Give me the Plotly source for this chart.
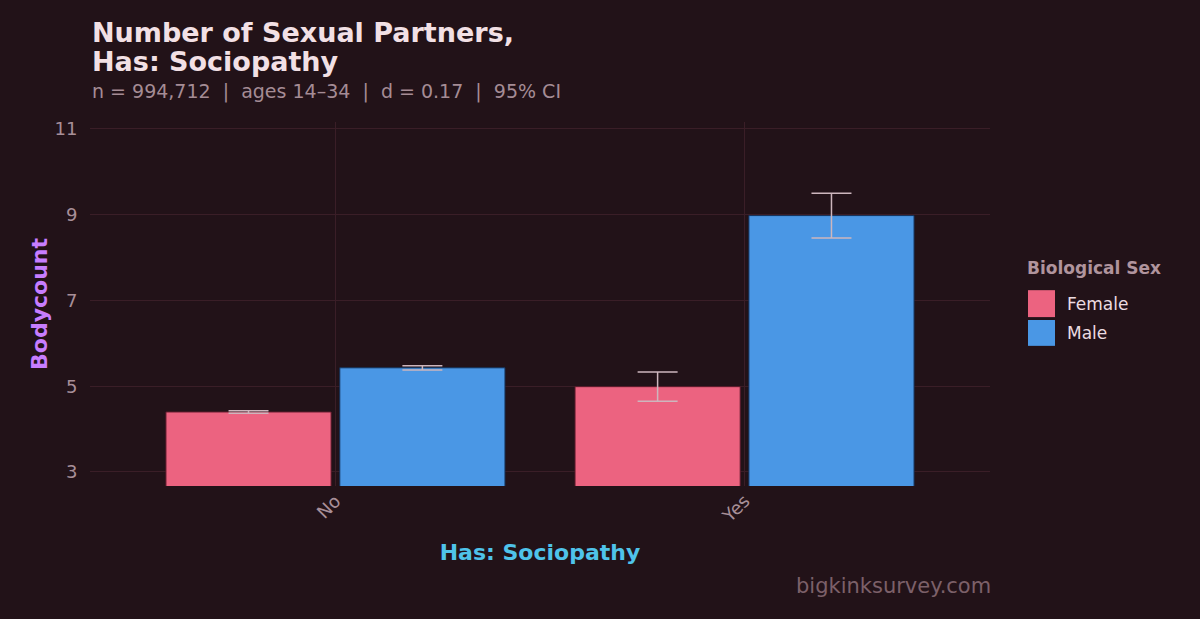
import plotly.graph_objects as go

# mean partner counts by sociopathy answer, split by sex
categories = ["No", "Yes"]
female_means = [4.40, 4.99]
female_ci = [0.03, 0.34]
male_means = [5.43, 8.98]
male_ci = [0.05, 0.52]

y_ticks = [3, 5, 7, 9, 11]

bg = "#221218"
grid = "#3a1e27"
tick_col = "#a88f98"
err_col = "#cdb6bd"
female_col = "#ec6380"
male_col = "#4a97e5"

fig = go.Figure(
    data=[
        go.Bar(
            name="Female",
            x=categories,
            y=female_means,
            error_y=dict(type="data", array=female_ci, color=err_col, thickness=1.5, width=20),
            marker=dict(color=female_col, line=dict(color="#5a1a2a", width=1)),
        ),
        go.Bar(
            name="Male",
            x=categories,
            y=male_means,
            error_y=dict(type="data", array=male_ci, color=err_col, thickness=1.5, width=20),
            marker=dict(color=male_col, line=dict(color="#15325a", width=1)),
        ),
    ],
    layout=go.Layout(
        width=1200,
        height=619,
        paper_bgcolor=bg,
        plot_bgcolor=bg,
        font=dict(family="DejaVu Sans", size=16, color=tick_col),
        margin=dict(l=90, r=210, t=122, b=133),
        barmode="group",
        bargap=0.15,
        bargroupgap=0.05,
        showlegend=False,
        xaxis=dict(
            title=dict(text="<b>Has: Sociopathy</b>", font=dict(size=22, color="#4fc3ea"), standoff=19),
            range=[-0.6, 1.6],
            tickangle=-45,
            tickfont=dict(size=18, color=tick_col),
            showgrid=True, gridcolor=grid, gridwidth=1,
            zeroline=False, showline=False, ticks="",
        ),
        yaxis=dict(
            title=dict(text="<b>Bodycount</b>", font=dict(size=22, color="#c77dff"), standoff=0),
            automargin=True,
            range=[2.673, 11.163],
            tickvals=y_ticks,
            ticks="outside", ticklen=8, tickcolor="rgba(0,0,0,0)",
            tickfont=dict(size=18, color=tick_col),
            showgrid=True, gridcolor=grid, gridwidth=1,
            zeroline=False, showline=False,
        ),
    ),
)

# title block, stacked above the plot area
fig.add_annotation(text="<b>Number of Sexual Partners,</b>", xref="paper", yref="paper",
                   x=0, y=1, xanchor="left", yanchor="middle", yshift=90, showarrow=False,
                   font=dict(size=27, color="#f2e0e5"))
fig.add_annotation(text="<b>Has: Sociopathy</b>", xref="paper", yref="paper",
                   x=0, y=1, xanchor="left", yanchor="middle", yshift=61, showarrow=False,
                   font=dict(size=27, color="#f2e0e5"))
fig.add_annotation(text="n = 994,712  |  ages 14–34  |  d = 0.17  |  95% CI", xref="paper", yref="paper",
                   x=0, y=1, xanchor="left", yanchor="middle", yshift=31, showarrow=False,
                   font=dict(size=19, color="#a58c95"))
fig.add_annotation(text="bigkinksurvey.com", xref="paper", yref="paper",
                   x=1, y=0, yshift=-100, xshift=3, xanchor="right", yanchor="middle", showarrow=False,
                   font=dict(size=21, color="#7c6069"))

# legend drawn by hand to get the big square keys
fig.add_annotation(text="<b>Biological Sex</b>", xref="paper", yref="paper",
                   x=1.039, y=0.599, xanchor="left", yanchor="middle", showarrow=False,
                   font=dict(size=17, color="#b0949d"))
for name, col, y0, y1 in [("Female", female_col, 0.464, 0.538), ("Male", male_col, 0.385, 0.456)]:
    fig.add_shape(type="rect", xref="paper", yref="paper", x0=1.0422, x1=1.0722, y0=y0, y1=y1,
                  fillcolor=col, line=dict(width=0))
    fig.add_annotation(text=name, xref="paper", yref="paper", x=1.083, y=(y0 + y1) / 2,
                       xanchor="left", yanchor="middle", showarrow=False,
                       font=dict(size=17, color="#ecdce1"))

fig.write_html("out.html", config={"displayModeBar": False},
               post_script="document.body.style.margin='0';")
